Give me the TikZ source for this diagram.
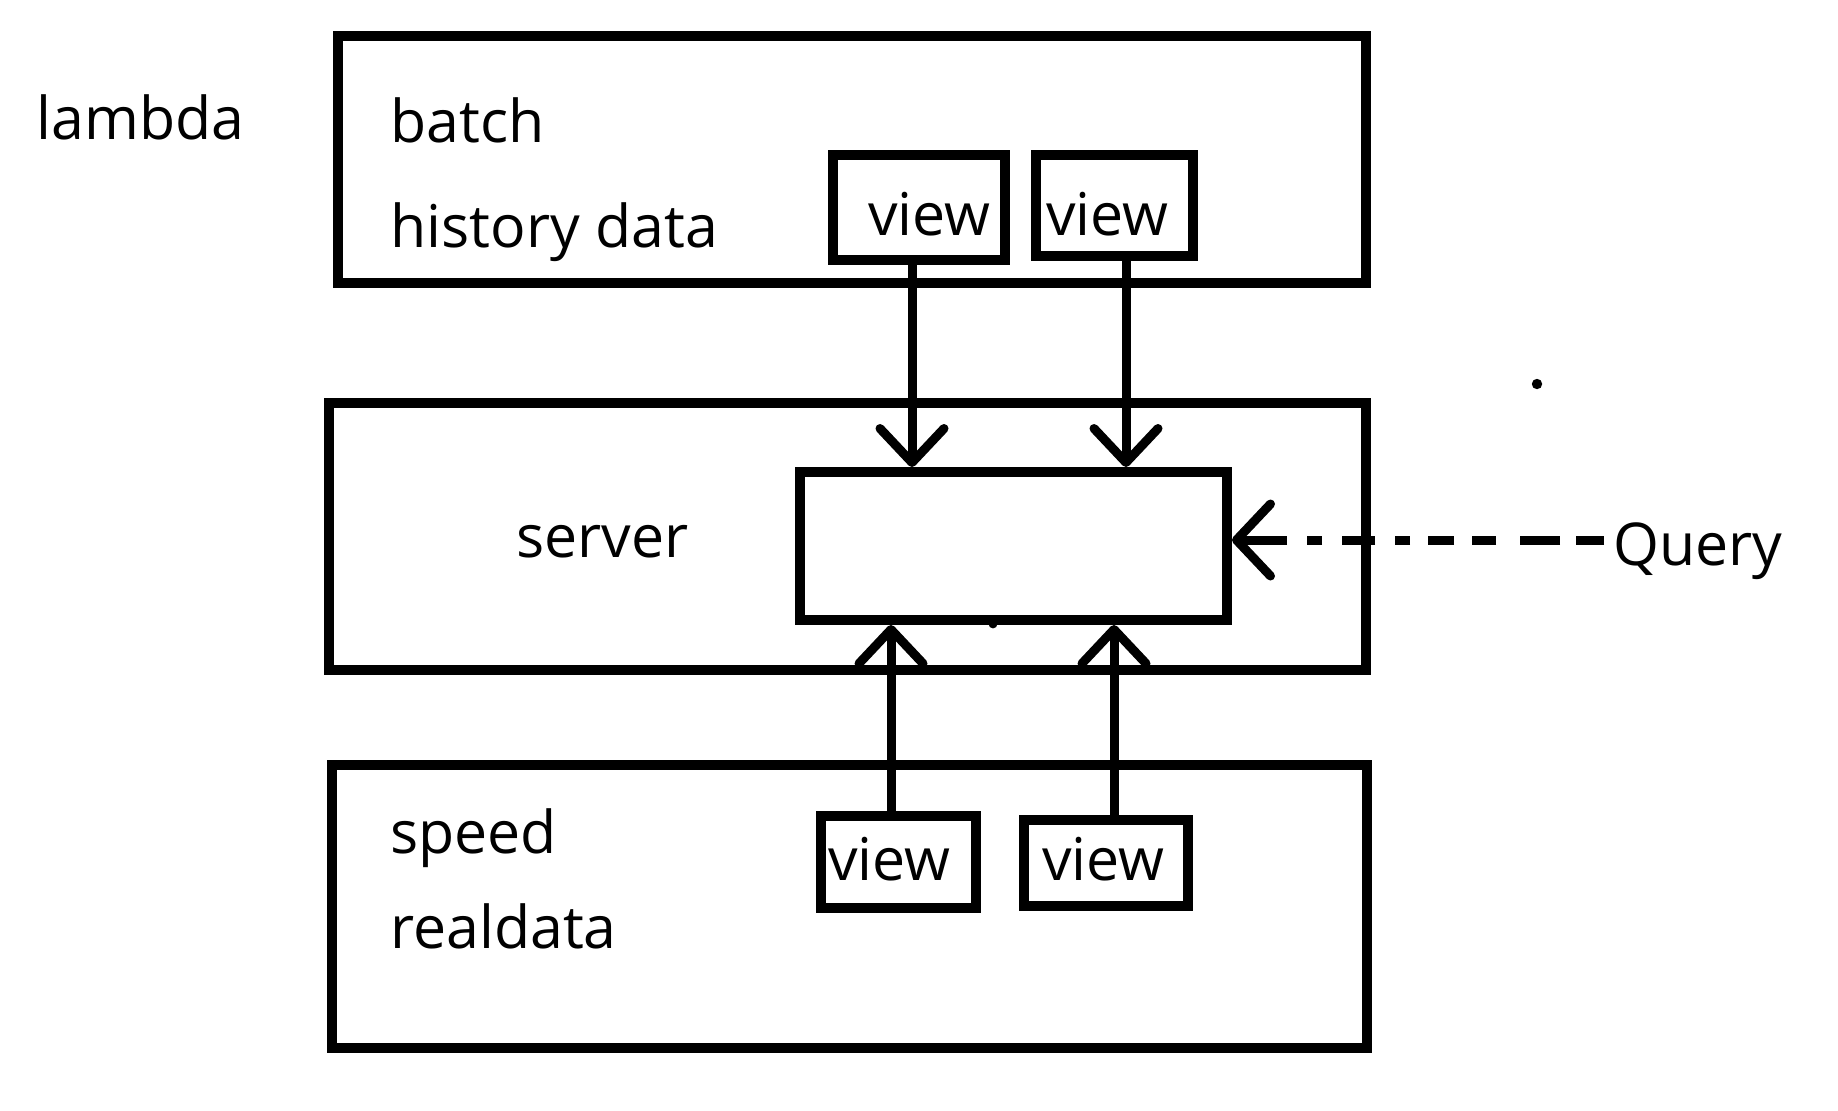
\documentclass[tikz,border=0pt]{standalone}
\usepackage{fontspec}
\setmainfont{Open Sans}
\usetikzlibrary{arrows.meta}
\tikzset{
  frame/.style={draw=black, line width=5pt, fill=none, inner sep=0pt, rectangle},
  vbox/.style={draw=black, line width=5pt, inner sep=0pt, rectangle},
  lbl/.style={inner sep=0pt, anchor=base west, font=\fontsize{29.5}{34}\selectfont},
  arr/.style={line width=4.5pt, -{Straight Barb[length=17pt, width=32pt, round]}},
  qarr/.style={line width=4.5pt, dash pattern=on 14pt off 8pt on 20pt off 12pt on 12pt off 9pt on 13pt off 9pt on 7.5pt off 10pt on 16.5pt off 10pt on 7.5pt off 10pt on 60pt,
     -{Straight Barb[length=17pt, width=36pt, round]}}
}
\begin{document}
\begin{tikzpicture}[x=0.5pt,y=-0.5pt]
\useasboundingbox (0,0) rectangle (1838,1110);
\fill[white] (0,0) rectangle (1838,1110);

% big frames
\node[frame, minimum width=514pt, minimum height=123.5pt] (batchbox) at (852,159.5) {};
\node[frame, minimum width=518.5pt, minimum height=133.5pt] (serverbox) at (847.5,536.5) {};
\node[frame, minimum width=517.5pt, minimum height=141.5pt] (speedbox) at (849.5,906.5) {};

% inner server box
\node[vbox, minimum width=213.5pt, minimum height=74pt] (inner) at (1013.5,546) {};

% view boxes
\node[vbox, minimum width=86pt, minimum height=52.5pt] (tv1) at (919,207.5) {};
\node[vbox, minimum width=78.5pt, minimum height=50.5pt] (tv2) at (1114.5,205.5) {};
\node[vbox, minimum width=77.5pt, minimum height=46pt] (bv1) at (898.5,862) {};
\node[vbox, minimum width=82pt, minimum height=43pt] (bv2) at (1106,863) {};

% texts
\node[lbl] (lambda) at (36,139) {lambda};
\node[lbl] (batch) at (390,142) {batch};
\node[lbl] (history) at (390,247) {history data};
\node[lbl] (server) at (516,557) {server};
\node[lbl] (speed) at (390,853) {speed};
\node[lbl] (realdata) at (390,948) {realdata};
\node[lbl] (tv1t) at (868,235) {view};
\node[lbl] (tv2t) at (1046,235) {view};
\node[lbl] (bv1t) at (828,880) {view};
\node[lbl] (bv2t) at (1042,880) {view};
\node[lbl] (query) at (1613,565) {Query};

% connector x positions
\coordinate (xa) at (912,0);
\coordinate (xb) at (1126,0);
\coordinate (xc) at (891,0);
\coordinate (xd) at (1114,0);
\coordinate (yq) at (0,540);

\draw[arr] (tv1.south -| xa) -- (inner.north -| xa);
\draw[arr] (tv2.south -| xb) -- (inner.north -| xb);
\draw[arr] (bv1.north -| xc) -- (inner.south -| xc);
\draw[arr] (bv2.north -| xd) -- (inner.south -| xd);
\draw[qarr] ([xshift=-4.5pt]query.west |- yq) -- (inner.east |- yq);

% stray dots
\fill (1537,384) circle (2.6pt);
\fill (993,624) circle (2.2pt);
\end{tikzpicture}
\end{document}
